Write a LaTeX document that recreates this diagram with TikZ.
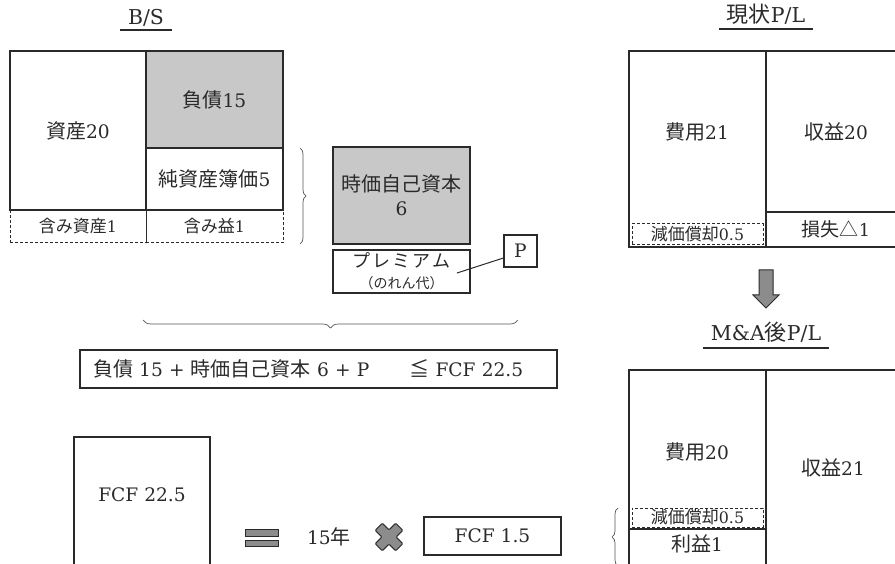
\documentclass[tikz,border=0pt]{standalone}
\usepackage{fontspec}
\setmainfont{DejaVu Serif}[Scale=0.93]
\newfontfamily\jpfont{Noto Sans CJK JP}
\usetikzlibrary{decorations.pathreplacing,calc}
\newcommand\jpx[1]{{\jpfont #1}}
\definecolor{ln}{HTML}{2A2A2A}
\definecolor{lg}{HTML}{C8C8C8}
\definecolor{dg}{HTML}{8C8C8C}
\begin{document}
\begin{tikzpicture}[x=1pt,y=-1pt,
  every node/.style={text=ln, font=\fontsize{20}{22}\selectfont},
  cell/.style={draw=ln, line width=1.2pt, inner sep=0pt, align=center},
  shadecell/.style={cell, fill=lg, line width=1.9pt},
  dashcell/.style={cell, dash pattern=on 3pt off 2pt, line width=1pt},
  sz/.style 2 args={minimum width=#1pt, minimum height=#2pt},
  smallfont/.style={font=\fontsize{17}{19}\selectfont},
  title/.style={inner xsep=8pt, inner ysep=0pt, anchor=base, font=\fontsize{22}{24}\selectfont},
  uline/.style={draw=ln, line width=1.2pt},
  bracestyle/.style={draw=ln!80, line width=0.7pt, decorate},
  solidgray/.style={draw=ln, fill=dg, line width=1pt}
]
\useasboundingbox (0,0) rectangle (895,564);

% ---------- titles ----------
\coordinate (u1) at (0,30);
\coordinate (u2) at (0,29);
\coordinate (u3) at (0,348);
\node[title] (bs) at (146,25) {B/S};
\draw[uline] (bs.west |- u1) -- (bs.east |- u1);
\node[title] (pl1) at (766,23) {\jpx{現状}P/L};
\draw[uline] (pl1.west |- u2) -- (pl1.east |- u2);
\node[title] (pl2) at (766,341) {M\&A\jpx{後}P/L};
\draw[uline] (pl2.west |- u3) -- (pl2.east |- u3);

% ---------- B/S ----------
\node[cell, sz={136}{159}] (shisan) at (78,130.5) {\jpx{資産}20};
\node[shadecell, sz={137}{97}] (fusai) at (214.5,99.5) {\jpx{負債}15};
\node[cell, sz={137}{62}] (junshi) at (214.5,179) {\jpx{純資産簿価}5};
\node[dashcell, sz={136}{33}, smallfont] (fuku1) at (78,226.5) {\jpx{含み資産}1};
\node[dashcell, sz={137}{33}, smallfont] (fuku2) at (214.5,226.5) {\jpx{含み益}1};
\coordinate (b1a) at (300,148);
\coordinate (b1b) at (300,244);
\draw[bracestyle, decoration={brace, amplitude=6pt}] (b1a) -- (b1b);

% ---------- market value equity ----------
\node[shadecell, sz={137}{97}] (jika) at (401.5,195.5) {\jpx{時価自己資本}\\[2pt]6};
\node[cell, sz={137}{43}] (prem) at (401.5,271.5)
  {\fontsize{18}{18}\selectfont\jpx{プ\kern2pt レ\kern2pt ミ\kern2pt ア\kern2pt ム}\\[-1pt]\fontsize{14}{14}\selectfont\jpx{（のれん代）}};
\node[cell, sz={33}{32}] (P) at (520.5,251) {P};
\coordinate (pl) at (457,273);
\draw[ln, line width=1pt] (pl) -- ([yshift=-7pt]P.west);

\coordinate (b2a) at (518,320);
\coordinate (b2b) at (143,320);
\draw[bracestyle, decoration={brace, amplitude=8pt}] (b2a) -- (b2b);

% ---------- formula ----------
\node[cell, sz={477}{38}, text width=451pt, align=left, inner xsep=13pt] (fx) at (318.5,369)
  {\jpx{負債} 15 + \jpx{時価自己資本} 6 + P\hspace{40pt}\jpx{≦} FCF 22.5};

% ---------- FCF ----------
\node[cell, sz={136}{150}] (fcfbox) at (142,512) {};
\node (fcft) at (142,495) {FCF 22.5};
\draw[solidgray] (245,529) rectangle (278,536);
\draw[solidgray] (245,540) rectangle (278,546);
\node (yrs) at (329,537) {15\jpx{年}};
\begin{scope}[shift={(389,537)}, rotate=45]
  \draw[solidgray, rounded corners=1pt] (5,5) -- (14.5,5) -- (14.5,-5) -- (5,-5) -- (5,-14.5) -- (-5,-14.5) -- (-5,-5) -- (-14.5,-5) -- (-14.5,5) -- (-5,5) -- (-5,14.5) -- (5,14.5) -- cycle;
\end{scope}
\node[cell, sz={137}{38}] (fcf2) at (492.5,536) {FCF 1.5};

% ---------- current P/L ----------
\node[cell, sz={137}{196}] (hiyo1) at (697.5,149) {};
\node (hiyo1t) at (697,132) {\jpx{費用}21};
\node[cell, sz={140}{161}] (shueki1) at (836,131.5) {\jpx{収益}20};
\node[cell, sz={140}{35}, font=\fontsize{19}{21}\selectfont] (sonshitsu) at (836,229.5) {\jpx{損失△}1};
\node[dashcell, sz={131}{21}, smallfont] (gen1) at (697.5,234.5) {\jpx{減価償却}0.5};

\draw[solidgray] (759,270) -- (773,270) -- (773,295) -- (779,295) -- (766,308) -- (753,295) -- (759,295) -- cycle;

% ---------- P/L after M&A ----------
\node[cell, sz={137}{230}] (hiyo2) at (697.5,485) {};
\node (hiyo2t) at (697,452) {\jpx{費用}20};
\node[cell, sz={140}{230}] (shueki2) at (836,485) {};
\node (shueki2t) at (833,468) {\jpx{収益}21};
\node[cell, sz={137}{72}] (rieki) at (697.5,565) {};
\node (riekit) at (697,544) {\jpx{利益}1};
\node[dashcell, sz={131}{19}, smallfont] (gen2) at (697.5,517.5) {\jpx{減価償却}0.5};
\coordinate (b3a) at (618,566);
\coordinate (b3b) at (618,508);
\draw[bracestyle, decoration={brace, amplitude=6pt}] (b3a) -- (b3b);
\end{tikzpicture}
\end{document}
